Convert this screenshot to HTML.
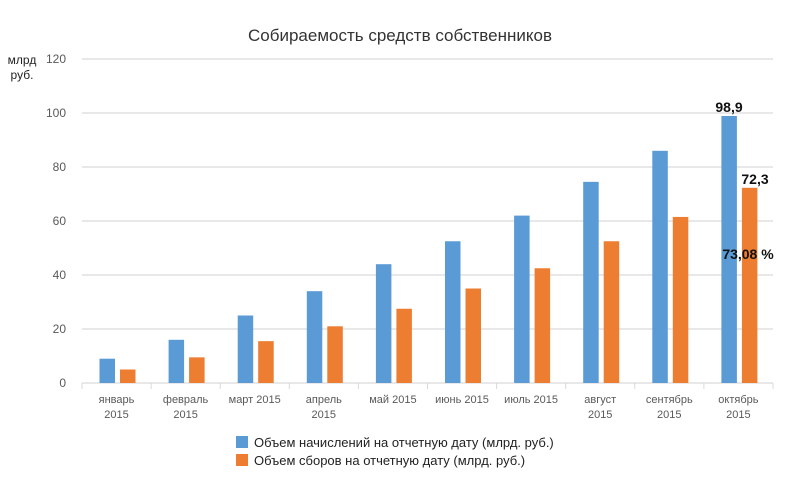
<!DOCTYPE html>
<html><head><meta charset="utf-8"><style>
body{margin:0;background:#fff;}
svg{font-family:"Liberation Sans",sans-serif;display:block}
</style></head><body>
<svg width="800" height="492" xmlns="http://www.w3.org/2000/svg">
<rect width="800" height="492" fill="#fff"/>
<text x="400" y="41" text-anchor="middle" font-size="17" fill="#333">Собираемость средств собственников</text>
<text x="22" y="64" text-anchor="middle" font-size="12" fill="#222">млрд</text>
<text x="22" y="79" text-anchor="middle" font-size="12" fill="#222">руб.</text>
<g stroke="#d9d9d9" stroke-width="1.2">
<line x1="82" x2="773" y1="59" y2="59"/><line x1="82" x2="773" y1="113" y2="113"/>
<line x1="82" x2="773" y1="167" y2="167"/><line x1="82" x2="773" y1="221" y2="221"/>
<line x1="82" x2="773" y1="275" y2="275"/><line x1="82" x2="773" y1="329" y2="329"/>
<line x1="82" x2="773" y1="383" y2="383"/>
</g>
<g font-size="12" fill="#595959" text-anchor="end">
<text x="66" y="63">120</text><text x="66" y="117">100</text><text x="66" y="171">80</text>
<text x="66" y="225">60</text><text x="66" y="279">40</text><text x="66" y="333">20</text><text x="66" y="387">0</text>
</g>
<g id="bars"></g>
<g stroke="#d9d9d9" id="ticks"></g>
<g font-size="11" fill="#595959" text-anchor="middle" id="xl"></g>
<text x="729" y="112" text-anchor="middle" font-size="14" font-weight="bold" fill="#111">98,9</text>
<text x="755" y="184" text-anchor="middle" font-size="14" font-weight="bold" fill="#111">72,3</text>
<text x="748" y="259" text-anchor="middle" font-size="14" font-weight="bold" fill="#111">73,08 %</text>
<rect x="236" y="436" width="12" height="12" fill="#5b9bd5"/>
<text x="254" y="447" font-size="13" fill="#222">Объем начислений на отчетную дату (млрд. руб.)</text>
<rect x="236" y="454" width="12" height="12" fill="#ed7d31"/>
<text x="254" y="465" font-size="13" fill="#222">Объем сборов на отчетную дату (млрд. руб.)</text>
<script>
var b=[9,16,25,34,44,52.5,62,74.5,86,98.9],o=[5,9.5,15.5,21,27.5,35,42.5,52.5,61.5,72.3];
var l=[["январь","2015"],["февраль","2015"],["март 2015"],["апрель","2015"],["май 2015"],["июнь 2015"],["июль 2015"],["август","2015"],["сентябрь","2015"],["октябрь","2015"]];
var ns="http://www.w3.org/2000/svg",s=2.7,g=document.getElementById("bars"),t=document.getElementById("ticks"),x=document.getElementById("xl");
function el(p,n,a,tx){var e=document.createElementNS(ns,n);for(var k in a)e.setAttribute(k,a[k]);if(tx)e.textContent=tx;p.appendChild(e);}
for(var i=0;i<10;i++){var c=82+i*69.1;
el(g,"rect",{x:c+17.5,y:383-b[i]*s,width:15.5,height:b[i]*s,fill:"#5b9bd5"});
el(g,"rect",{x:c+38,y:383-o[i]*s,width:15.5,height:o[i]*s,fill:"#ed7d31"});
el(t,"line",{x1:c,x2:c,y1:383,y2:389});
var m=c+34.5;
if(l[i].length==1)el(x,"text",{x:m,y:403},l[i][0]);else{el(x,"text",{x:m,y:403},l[i][0]);el(x,"text",{x:m,y:418},l[i][1]);}}
el(t,"line",{x1:773,x2:773,y1:383,y2:389});
</script>
</svg>
</body></html>
